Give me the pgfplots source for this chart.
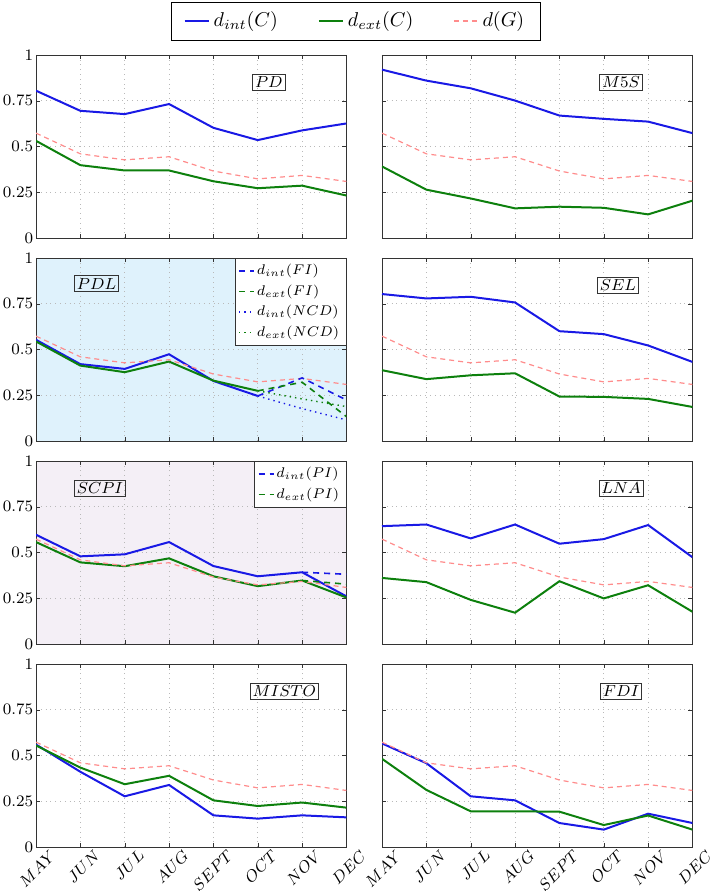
\documentclass[border=0pt]{standalone}
\usepackage{pgfplots}
\pgfplotsset{compat=1.18}
\definecolor{pinkc}{rgb}{1,0.55,0.55}
\definecolor{greenc}{rgb}{0.05,0.5,0.05}
\definecolor{bluec}{rgb}{0.1,0.1,0.9}
\definecolor{bluebg}{HTML}{DFF2FC}
\definecolor{lavbg}{HTML}{F4EFF6}
\tikzset{plab/.style={draw=gray!40!black, font=\fontsize{8.5}{10}\selectfont, inner sep=1.2pt}}
\pgfplotsset{
 panel/.style={scale only axis, width=155.25pt, height=91.5pt,
   xmin=0, xmax=7, ymin=0, ymax=1,
   xtick={0,...,7}, ytick={0,0.25,0.5,0.75,1},
   grid=major, grid style={dotted, gray!55},
   tick align=inside, major tick length=2pt,
   axis line style={gray!40!black}, tick style={gray!40!black},
   tick label style={font=\fontsize{8.3}{10}\selectfont},
   xticklabels={}, yticklabels={}, anchor=south west},
 leftcol/.style={yticklabels={$0$,$0.25$,$0.5$,$0.75$,$1$}, yticklabel style={inner sep=1.2pt}},
 bottomrow/.style={xticklabels={$MAY$,$JUN$,$JUL$,$AUG$,$SEPT$,$OCT$,$NOV$,$DEC$},
   xticklabel style={xshift=6.5pt, yshift=0pt, rotate=45, anchor=north east, inner sep=0.5pt, font=\fontsize{8.3}{10}\selectfont}},
 intc/.style={bluec, line width=1pt},
 extc/.style={greenc, line width=1pt},
 dg/.style={pinkc, line width=0.6pt, dash pattern=on 2.5pt off 2pt},
 inleg/.style={legend style={at={(1,1)}, anchor=north east, font=\scriptsize, draw=gray!40!black, fill=white, row sep=-0.5pt, inner xsep=1.5pt, inner ysep=1pt,
     /tikz/every odd column/.append style={column sep=-1pt}},
   legend cell align=left,
   legend image code/.code={\draw[##1] (0pt,0pt) -- (7.5pt,0pt);}},
 mainleg/.style={legend columns=3,
   legend style={at={(1.0306,1.186)}, anchor=center, draw=black, fill=white,
     /tikz/every even column/.append style={column sep=18pt}, inner xsep=6pt, inner ysep=3pt},
   legend image code/.code={\draw[##1] (0pt,0pt) -- (12pt,0pt);}},
}
\pgfplotstableread{
x  dg
0  0.573
1  0.460
2  0.427
3  0.444
4  0.366
5  0.323
6  0.342
7  0.309
}\dG
\begin{document}
\begin{tikzpicture}
\path[use as bounding box] (0,0) rectangle (355pt,445.5pt);
% ---------- PD ----------
\begin{axis}[panel, leftcol, mainleg, at={(18pt,326.5pt)}]
\addplot[intc] coordinates {(0,0.805)(1,0.695)(2,0.677)(3,0.732)(4,0.602)(5,0.535)(6,0.588)(7,0.626)};
\addlegendentry{$d_{int}(C)$}
\addplot[extc] coordinates {(0,0.531)(1,0.398)(2,0.369)(3,0.369)(4,0.310)(5,0.272)(6,0.286)(7,0.232)};
\addlegendentry{$d_{ext}(C)$}
\addplot[dg] table[x=x,y=dg] {\dG};
\addlegendentry{$d(G)$}
\node[plab] at (rel axis cs:0.75,0.85) {$PD$};
\end{axis}
% ---------- M5S ----------
\begin{axis}[panel, at={(191pt,326.5pt)}]
\addplot[intc] coordinates {(0,0.920)(1,0.860)(2,0.818)(3,0.751)(4,0.669)(5,0.651)(6,0.636)(7,0.573)};
\addplot[extc] coordinates {(0,0.391)(1,0.264)(2,0.216)(3,0.162)(4,0.171)(5,0.165)(6,0.129)(7,0.204)};
\addplot[dg] table[x=x,y=dg] {\dG};
\node[plab] at (rel axis cs:0.77,0.85) {$M5S$};
\end{axis}
% ---------- PDL ----------
\begin{axis}[panel, leftcol, inleg, at={(18pt,225pt)}, axis background/.style={fill=bluebg}]
\addplot[intc, forget plot] coordinates {(0,0.553)(1,0.420)(2,0.394)(3,0.474)(4,0.328)(5,0.246)};
\addplot[extc, forget plot] coordinates {(0,0.544)(1,0.412)(2,0.376)(3,0.434)(4,0.330)(5,0.274)};
\addplot[dg, forget plot] table[x=x,y=dg] {\dG};
\addplot[bluec, line width=0.8pt, dash pattern=on 3pt off 2.5pt] coordinates {(5,0.246)(6,0.345)(7,0.224)};
\addlegendentry{$d_{int}(FI)$}
\addplot[greenc, line width=0.8pt, dash pattern=on 3pt off 2.5pt] coordinates {(5,0.274)(6,0.321)(7,0.133)};
\addlegendentry{$d_{ext}(FI)$}
\addplot[bluec, line width=0.7pt, dotted] coordinates {(5,0.246)(6,0.177)(7,0.115)};
\addlegendentry{$d_{int}(NCD)$}
\addplot[greenc, line width=0.7pt, dotted] coordinates {(5,0.274)(6,0.230)(7,0.188)};
\addlegendentry{$d_{ext}(NCD)$}
\node[plab] at (rel axis cs:0.195,0.86) {$PDL$};
\end{axis}
% ---------- SEL ----------
\begin{axis}[panel, at={(191pt,225pt)}]
\addplot[intc] coordinates {(0,0.803)(1,0.779)(2,0.788)(3,0.757)(4,0.600)(5,0.584)(6,0.522)(7,0.432)};
\addplot[extc] coordinates {(0,0.387)(1,0.338)(2,0.359)(3,0.370)(4,0.243)(5,0.241)(6,0.230)(7,0.186)};
\addplot[dg] table[x=x,y=dg] {\dG};
\node[plab] at (rel axis cs:0.76,0.85) {$SEL$};
\end{axis}
% ---------- SCPI ----------
\begin{axis}[panel, leftcol, inleg, at={(18pt,123.5pt)}, axis background/.style={fill=lavbg}]
\addplot[intc, forget plot] coordinates {(0,0.597)(1,0.479)(2,0.490)(3,0.557)(4,0.426)(5,0.370)(6,0.392)(7,0.260)};
\addplot[extc, forget plot] coordinates {(0,0.557)(1,0.446)(2,0.425)(3,0.468)(4,0.370)(5,0.316)(6,0.347)(7,0.254)};
\addplot[dg, forget plot] table[x=x,y=dg] {\dG};
\addplot[bluec, line width=0.8pt, dash pattern=on 3pt off 2.5pt] coordinates {(6,0.392)(7,0.381)};
\addlegendentry{$d_{int}(PI)$}
\addplot[greenc, line width=0.8pt, dash pattern=on 3pt off 2.5pt] coordinates {(6,0.347)(7,0.327)};
\addlegendentry{$d_{ext}(PI)$}
\node[plab] at (rel axis cs:0.206,0.85) {$SCPI$};
\end{axis}
% ---------- LNA ----------
\begin{axis}[panel, at={(191pt,123.5pt)}]
\addplot[intc] coordinates {(0,0.644)(1,0.653)(2,0.577)(3,0.653)(4,0.548)(5,0.573)(6,0.650)(7,0.474)};
\addplot[extc] coordinates {(0,0.361)(1,0.338)(2,0.241)(3,0.171)(4,0.343)(5,0.249)(6,0.321)(7,0.176)};
\addplot[dg] table[x=x,y=dg] {\dG};
\node[plab] at (rel axis cs:0.77,0.85) {$LNA$};
\end{axis}
% ---------- MISTO ----------
\begin{axis}[panel, leftcol, bottomrow, at={(18pt,22pt)}]
\addplot[intc] coordinates {(0,0.560)(1,0.411)(2,0.277)(3,0.339)(4,0.173)(5,0.155)(6,0.173)(7,0.162)};
\addplot[extc] coordinates {(0,0.555)(1,0.434)(2,0.343)(3,0.389)(4,0.255)(5,0.224)(6,0.243)(7,0.215)};
\addplot[dg] table[x=x,y=dg] {\dG};
\node[plab] at (rel axis cs:0.80,0.85) {$MISTO$};
\end{axis}
% ---------- FDI ----------
\begin{axis}[panel, bottomrow, at={(191pt,22pt)}]
\addplot[intc] coordinates {(0,0.566)(1,0.458)(2,0.277)(3,0.255)(4,0.131)(5,0.095)(6,0.182)(7,0.131)};
\addplot[extc] coordinates {(0,0.482)(1,0.312)(2,0.195)(3,0.195)(4,0.193)(5,0.120)(6,0.172)(7,0.095)};
\addplot[dg] table[x=x,y=dg] {\dG};
\node[plab] at (rel axis cs:0.77,0.85) {$FDI$};
\end{axis}
\end{tikzpicture}
\end{document}
